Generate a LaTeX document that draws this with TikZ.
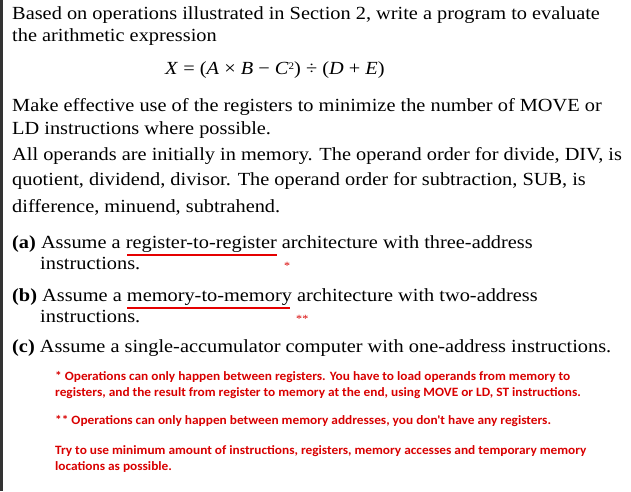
\documentclass[tikz,border=0pt]{standalone}
\usepackage{fontspec}
\setmainfont[FakeStretch=1.1]{Liberation Serif}
\newfontfamily\redfont[FakeStretch=1.05]{Carlito}
\begin{document}
\begin{tikzpicture}[x=1pt,y=1pt,
  txt/.style={anchor=base west,inner sep=0pt,font=\fontsize{18.5}{20}\selectfont},
  note/.style={anchor=base west,inner sep=0pt,text=red!85!black,font=\redfont\bfseries\fontsize{12.7}{14}\selectfont},
  star/.style={anchor=base west,inner sep=0pt,text=red!85!black,font=\fontsize{11}{11}\selectfont},
  uline/.style={red!90!black,line width=1.3pt}]
\useasboundingbox (0,0) rectangle (631,491);
\fill[white] (0,0) rectangle (631,491);
\fill[black!80] (0,0) rectangle (2.5,491);
\node[txt] (l1) at (12,471) {Based on operations illustrated in Section 2, write a program to evaluate};
\node[txt] (l2) at (12,449) {the arithmetic expression};
\node[txt] (f) at (165,416) {\textit{X} = (\textit{A} × \textit{B} − \textit{C}\raisebox{0.7ex}{\fontsize{10}{10}\selectfont 2}) ÷ (\textit{D} + \textit{E})};
\node[txt] (l3) at (12,379) {Make effective use of the registers to minimize the number of MOVE or};
\node[txt] (l4) at (12,357) {LD instructions where possible.};
\node[txt] (l5) at (12,331) {All operands are initially in memory. The operand order for divide, DIV, is};
\node[txt] (l6) at (12,306) {quotient, dividend, divisor. The operand order for subtraction, SUB, is};
\node[txt] (l7) at (12,279) {difference, minuend, subtrahend.};
\node[txt] (a1) at (12,243) {\textbf{(a)} Assume a register-to-register architecture with three-address};
\node[txt] (a2) at (40,222) {instructions.};
\node[txt] (b1) at (12,190) {\textbf{(b)} Assume a memory-to-memory architecture with two-address};
\node[txt] (b2) at (40,169) {instructions.};
\node[txt] (c1) at (12,139) {\textbf{(c)} Assume a single-accumulator computer with one-address instructions.};
\coordinate (ua1) at (127,236); \coordinate (ua2) at (277,236);
\draw[uline] (ua1) -- (ua2);
\coordinate (ub1) at (127,183); \coordinate (ub2) at (290,183);
\draw[uline] (ub1) -- (ub2);
\node[star] (s1) at (284,222) {*};
\node[star] (s2) at (296,169) {**};
\node[note] (n1) at (55,111) {* Operations can only happen between registers. You have to load operands from memory to};
\node[note] (n2) at (55,95) {registers, and the result from register to memory at the end, using MOVE or LD, ST instructions.};
\node[note] (n3) at (55,67) {** Operations can only happen between memory addresses, you don't have any registers.};
\node[note] (n4) at (55,37) {Try to use minimum amount of instructions, registers, memory accesses and temporary memory};
\node[note] (n5) at (55,21) {locations as possible.};
\end{tikzpicture}
\end{document}
